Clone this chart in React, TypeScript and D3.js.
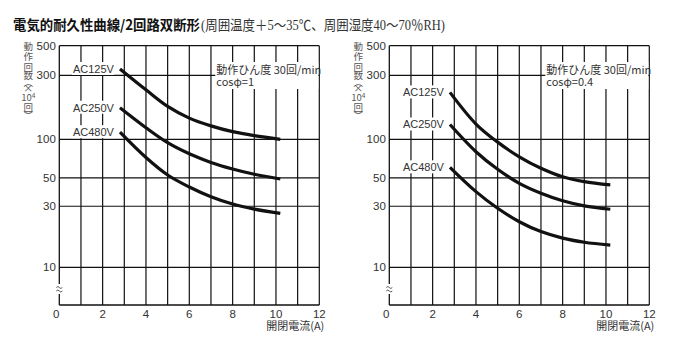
import React from "react";
import * as d3 from "d3";

const currents = [2.8, 4, 5, 6, 7, 8, 9, 10.2];
const seriesNames = ["AC125V", "AC250V", "AC480V"];
const leftAC125 = [335, 234, 176, 144, 126, 114, 106.5, 100];
const leftAC250 = [172, 122, 94, 77, 66, 58.6, 53.3, 49];
const leftAC480 = [113, 72, 52.6, 42.4, 35.6, 31.2, 28.5, 26.4];
const rightAC125 = [224, 130, 95, 73, 59.4, 51, 46.7, 44];
const rightAC250 = [129, 80, 58.3, 45.3, 37.9, 33.1, 30.2, 28.4];
const rightAC480 = [60.4, 39, 28.9, 22.7, 19, 16.9, 15.7, 14.9];
const yTicks = [500, 300, 100, 50, 30, 10];
const xTicks = [0, 2, 4, 6, 8, 10, 12];
const xGrid = [1, 2, 3, 4, 5, 6, 7, 8, 9, 10, 11];
const titleMain = "電気的耐久性曲線/2回路双断形";
const titleSub = "(周囲温度＋5～35℃、周囲湿度40～70％RH)";
const xTitle = "開閉電流(A)";
const noteLine1 = "動作ひん度 30回/min";
const notesLine2 = ["cosφ=1", "cosφ=0.4"];
const yTitleChars = ["動", "作", "回", "数", "︵", "×", "10", "回", "︶"];
const yTitleCenters = [46.7, 56.3, 67.2, 75.5, 82.5, 88.5, 97.7, 107.5, 115.5];

const SANS = "'Liberation Sans', Arial, 'Noto Sans CJK JP', sans-serif";
const CJK = "'Noto Sans CJK JP', 'Liberation Sans', sans-serif";
const INK = "#111";
const TXT = "#333";

const yScale = d3.scaleLog().domain([10, 100, 500]).range([267.3, 139.3, 45.7]);
const yBottom = 305;

function Panel({ x0, series, note2 }: { x0: number; series: number[][]; note2: string }) {
  const x = d3.scaleLinear().domain([0, 12]).range([x0, x0 + 260]);
  const top = yScale(500);
  const line = d3
    .line<[number, number]>()
    .x((d) => x(d[0]))
    .y((d) => yScale(d[1]))
    .curve(d3.curveCatmullRom.alpha(0.5));
  const left = x(0);
  const right = x(12);
  return (
    <g>
      {xGrid.map((v) => (
        <line key={"v" + v} x1={x(v)} x2={x(v)} y1={top} y2={yBottom} stroke={INK} strokeWidth={1.2} />
      ))}
      {yTicks.map((v) => (
        <line key={"h" + v} x1={left} x2={right} y1={yScale(v)} y2={yScale(v)} stroke={INK} strokeWidth={1.2} />
      ))}
      <line x1={left} x2={right} y1={yBottom} y2={yBottom} stroke={INK} strokeWidth={1.3} />
      <line x1={right} x2={right} y1={top} y2={yBottom} stroke={INK} strokeWidth={1.2} />
      <line x1={left} x2={left} y1={top} y2={284} stroke={INK} strokeWidth={1.3} />
      <line x1={left} x2={left} y1={294} y2={yBottom} stroke={INK} strokeWidth={1.3} />
      <path d={`M${left - 3},${287.5} q1.5,-2 3,0 t3,0`} fill="none" stroke="#555" strokeWidth={1} />
      <path d={`M${left - 3},${291} q1.5,-2 3,0 t3,0`} fill="none" stroke="#555" strokeWidth={1} />
      <rect x={x(7.2)} y={62} width={right - x(7.2) - 1} height={27} fill="#fff" />
      <text x={x(7.2) + 1} y={74} fontFamily={CJK} fontSize={11} fill={TXT}>
        {noteLine1}
      </text>
      <text x={x(7.2) + 1} y={86} fontFamily={CJK} fontSize={11} fill={TXT}>
        {note2}
      </text>
      {series.map((vals, i) => {
        const pts = currents.map((c, j) => [c, vals[j]] as [number, number]);
        const sx = x(currents[0]);
        const sy = yScale(vals[0]);
        return (
          <g key={"s" + i}>
            <rect x={sx - 48} y={sy - 7} width={42} height={13} fill="#fff" />
            <text x={sx - 6} y={sy + 4} textAnchor="end" fontFamily={SANS} fontSize={11} fill={TXT}>
              {seriesNames[i]}
            </text>
            <path d={line(pts) || ""} fill="none" stroke={INK} strokeWidth={3.2} />
          </g>
        );
      })}
      {yTicks.map((v) => (
        <text key={"yl" + v} x={left - 3.5} y={yScale(v) + 4} textAnchor="end" fontFamily={SANS} fontSize={11.5} fill={TXT}>
          {v}
        </text>
      ))}
      {xTicks.map((v) => (
        <text key={"xl" + v} x={v === 0 ? x(v) - 3 : x(v)} y={318} textAnchor="middle" fontFamily={SANS} fontSize={11.5} fill={TXT}>
          {v}
        </text>
      ))}
      <text x={right + 5} y={330} textAnchor="end" fontFamily={CJK} fontSize={11} fill={TXT}>
        {xTitle}
      </text>
      {yTitleChars.map((c, i) => (
        <text key={"yt" + i} x={x0 - 31} y={yTitleCenters[i] + 3.6} textAnchor="middle" fontFamily={CJK} fontSize={c === "×" ? 10 : 9.5} fill="#555">
          {c}
          {c === "10" ? (
            <tspan fontSize={6.5} dy={-3.5}>
              4
            </tspan>
          ) : null}
        </text>
      ))}
    </g>
  );
}

export default function App() {
  return (
    <svg
      width={676}
      height={355}
      style={{ position: "absolute", left: 0, top: 0, background: "#fff" }}
      xmlns="http://www.w3.org/2000/svg"
    >
      <rect width={676} height={355} fill="#fff" />
      <text x={13} y={30} fontFamily={CJK} fontWeight="bold" fontSize={14} fill="#111" textLength={187} lengthAdjust="spacingAndGlyphs">
        {titleMain}
      </text>
      <text x={201} y={30} fontFamily={"'Liberation Serif', 'Noto Sans CJK JP', serif"} fontSize={14} fill="#333" textLength={244} lengthAdjust="spacingAndGlyphs">
        {titleSub}
      </text>
      <Panel x0={59.3} series={[leftAC125, leftAC250, leftAC480]} note2={notesLine2[0]} />
      <Panel x0={389.3} series={[rightAC125, rightAC250, rightAC480]} note2={notesLine2[1]} />
    </svg>
  );
}
